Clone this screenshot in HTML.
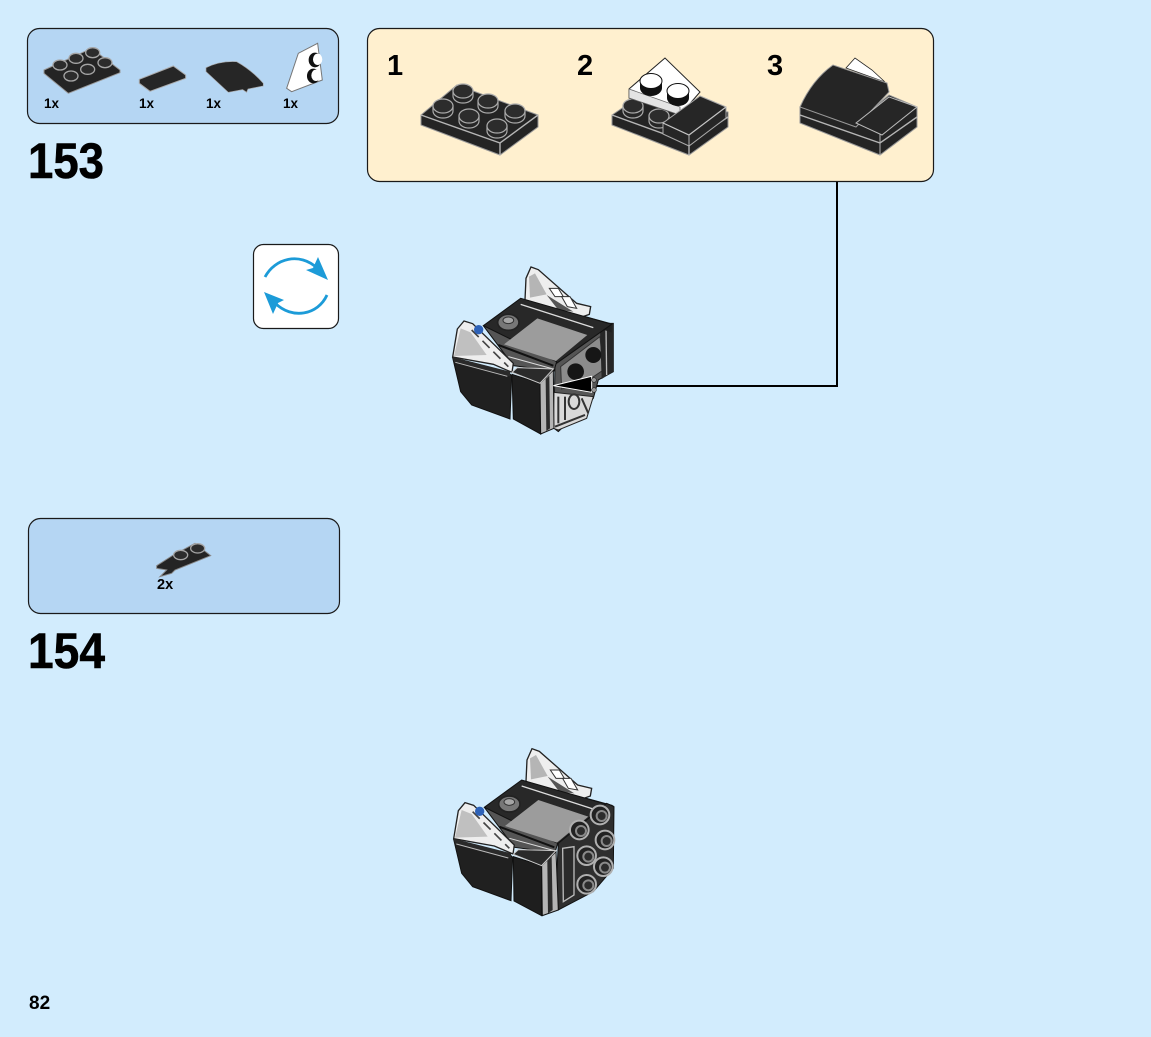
<!DOCTYPE html>
<html><head><meta charset="utf-8">
<style>
html,body{margin:0;padding:0;background:#d2ecfd;}
svg{display:block;}
text{font-family:"Liberation Sans",sans-serif;font-weight:bold;fill:#000;}
</style></head>
<body>
<svg width="1151" height="1037" viewBox="0 0 1151 1037" xmlns="http://www.w3.org/2000/svg">
<defs>
<g id="stud"><path d="M-10,0 V5 A10,7 0 0 0 10,5 V0 Z" fill="#262626" stroke="#aaa" stroke-width="1.2"/><ellipse rx="10" ry="7" fill="#2c2c2c" stroke="#aaa" stroke-width="1.2"/></g>
<g id="wstud"><path d="M-11,0 V7 A11,8 0 0 0 11,7 V0 Z" fill="#111"/><ellipse rx="11" ry="7.5" fill="#fff" stroke="#111" stroke-width="1"/></g>
<g id="ring"><circle r="28" fill="#222" stroke="#b0b0b0" stroke-width="6"/><circle cx="5" cy="3" r="15" fill="#2c2c2c" stroke="#8a8a8a" stroke-width="6"/></g>
<g id="common">
  <polygon points="272,130 545,205 545,232 280,150" fill="#1f1f1f"/>
  <line x1="282" y1="142" x2="520" y2="212" stroke="#ccc" stroke-width="3"/>
  <polygon points="288,70 303,36 325,44 440,145 482,155 478,178 450,188 385,165 285,135" fill="#eee" stroke="#222" stroke-width="4"/>
  <polygon points="297,65 315,55 350,118 300,128" fill="#b5b5b5"/>
  <g fill="#fff" stroke="#333" stroke-width="3"><polygon points="358,100 385,100 400,125 375,125"/><polygon points="395,125 420,125 440,160 412,155"/></g>
  <polygon points="350,120 430,170 385,165" fill="#555"/>
  <polygon points="160,212 272,130 545,208 380,325" fill="#282828" stroke="#111" stroke-width="3"/>
  <line x1="272" y1="148" x2="490" y2="218" stroke="#ddd" stroke-width="4"/>
  <polygon points="160,212 380,320 372,348 250,332" fill="#555" stroke="#111" stroke-width="3"/>
  <line x1="205" y1="270" x2="370" y2="332" stroke="#111" stroke-width="6"/>
  <line x1="235" y1="305" x2="370" y2="342" stroke="#ddd" stroke-width="3"/>
  <polygon points="222,268 322,190 472,240 378,318" fill="#9c9c9c"/>
  <ellipse cx="235" cy="202" rx="32" ry="24" fill="#777" stroke="#222" stroke-width="5"/>
  <ellipse cx="235" cy="196" rx="16" ry="10" fill="#a5a5a5" stroke="#333" stroke-width="3"/>
  <polygon points="82,222 102,198 128,206 250,325 246,352 190,328 68,306" fill="#eee" stroke="#222" stroke-width="4"/>
  <polygon points="92,220 122,232 170,300 72,303" fill="#c0c0c0"/>
  <line x1="125" y1="225" x2="235" y2="335" stroke="#444" stroke-width="5" stroke-dasharray="30 16"/>
  <circle cx="146" cy="224" r="14" fill="#2e62b8"/>
  <polygon points="68,308 235,352 245,362 240,492 125,450 92,410" fill="#202020" stroke="#111" stroke-width="3"/>
  <polygon points="68,306 240,350 240,364 72,322" fill="#2a2a2a"/>
  <line x1="76" y1="322" x2="232" y2="364" stroke="#bbb" stroke-width="3"/>
</g>
</defs>

<rect width="1151" height="1037" fill="#d2ecfd"/>

<!-- parts panel 153 -->
<rect x="27.5" y="28.5" width="311" height="95" rx="12" fill="#b5d6f3" stroke="#1a1a1a" stroke-width="1.2"/>
<g transform="translate(20,20) scale(.3333)">
  <polygon points="72,150 215,85 300,150 300,158 145,220 72,160" fill="#242424" stroke="#999" stroke-width="3"/>
  <g fill="#2c2c2c" stroke="#a5a5a5" stroke-width="4">
    <ellipse cx="120" cy="135" rx="21" ry="15"/><ellipse cx="168" cy="115" rx="21" ry="15"/><ellipse cx="218" cy="98" rx="21" ry="15"/>
    <ellipse cx="153" cy="168" rx="21" ry="15"/><ellipse cx="203" cy="148" rx="21" ry="15"/><ellipse cx="255" cy="128" rx="21" ry="15"/>
  </g>
  <polygon points="358,178 460,138 497,165 497,175 390,214 358,190" fill="#262626" stroke="#aaa" stroke-width="3"/>
  <path d="M558,143 Q600,122 650,125 Q695,150 730,190 L730,198 L684,207 L680,217 L668,209 L625,217 L558,155 Z" fill="#262626" stroke="#aaa" stroke-width="2"/>
  <polygon points="800,205 835,100 893,70 907,180 815,215" fill="#fff" stroke="#777" stroke-width="3"/>
  <ellipse cx="885" cy="120" rx="19" ry="22" fill="#111"/><ellipse cx="893" cy="118" rx="14" ry="17" fill="#fff"/>
  <ellipse cx="880" cy="168" rx="19" ry="22" fill="#111"/><ellipse cx="888" cy="166" rx="14" ry="17" fill="#fff"/>
</g>
<text x="44" y="108" font-size="13.5">1x</text>
<text x="139" y="108" font-size="13.5">1x</text>
<text x="206" y="108" font-size="13.5">1x</text>
<text x="283" y="108" font-size="13.5">1x</text>
<text x="28" y="178" font-size="50" textLength="76" lengthAdjust="spacingAndGlyphs" stroke="#000" stroke-width=".6">153</text>

<!-- sub-assembly panel -->
<rect x="367.5" y="28.5" width="566" height="153" rx="12" fill="#fff0cf" stroke="#1a1a1a" stroke-width="1.2"/>
<text x="387" y="75" font-size="29">1</text>
<text x="577" y="75" font-size="29">2</text>
<text x="767" y="75" font-size="29">3</text>

<!-- step 1 -->
<polygon points="421,115 457,85 538,115 538,127 500,155 421,125" fill="#242424" stroke="#999" stroke-width="1"/>
<polyline points="421,115 500,143 538,115" fill="none" stroke="#b5b5b5" stroke-width="1.4"/>
<line x1="500" y1="143" x2="500" y2="155" stroke="#b5b5b5" stroke-width="1.4"/>
<use href="#stud" x="463" y="91"/><use href="#stud" x="488" y="101"/><use href="#stud" x="515" y="111"/>
<use href="#stud" x="443" y="106"/><use href="#stud" x="469" y="116"/><use href="#stud" x="497" y="126"/>

<!-- step 2 -->
<polygon points="612,115 640,96 728,112 728,127 689,155 612,125" fill="#242424" stroke="#999"/>
<polyline points="612,115 689,143 728,117" fill="none" stroke="#b5b5b5" stroke-width="1.4"/>
<line x1="689" y1="143" x2="689" y2="155" stroke="#b5b5b5" stroke-width="1.4"/>
<use href="#stud" x="633" y="106"/><use href="#stud" x="659" y="116"/>
<polygon points="665,58 629,89 629,98 680,115 700,92" fill="#fff" stroke="#222"/>
<polygon points="629,89 680,107 680,115 629,98" fill="#e4e4e4" stroke="#666" stroke-width=".8"/>
<use href="#wstud" x="651" y="81"/><use href="#wstud" x="678" y="91"/>
<polygon points="663,123 700,96 726,107 726,118 689,146 663,134" fill="#262626" stroke="#aaa"/>
<polyline points="663,123 689,135 726,107" fill="none" stroke="#c5c5c5" stroke-width="1.2"/>
<line x1="689" y1="135" x2="689" y2="146" stroke="#b5b5b5"/>

<!-- step 3 -->
<polygon points="855,58 846,68 885,82 872,70" fill="#fff" stroke="#222" stroke-width=".8"/>
<polygon points="800,107 800,123 880,155 917,127 917,107 889,95 856,123" fill="#242424" stroke="#999"/>
<polyline points="800,115 880,143 917,117" fill="none" stroke="#b5b5b5" stroke-width="1.4"/>
<line x1="880" y1="132" x2="880" y2="155" stroke="#b5b5b5"/>
<path d="M800,107 Q812,80 833,65 L887,83 L889,92 L856,127 Z" fill="#252525" stroke="#999"/>
<polygon points="856,123 889,97 917,107 882,135" fill="#262626" stroke="#bbb"/>

<!-- connector -->
<path d="M837,182 V386 H590" fill="none" stroke="#000" stroke-width="2"/>

<!-- rotate icon -->
<rect x="253.5" y="244.5" width="85" height="84" rx="10" fill="#fff" stroke="#1a1a1a" stroke-width="1.2"/>
<g fill="none" stroke="#1c9bd8" stroke-width="2.8">
  <path d="M265,277 C275,258 300,252 317,268"/>
  <path d="M327,295 C318,315 292,320 275,303"/>
</g>
<polygon points="328,280 306,270 313,268 318,257" fill="#1c9bd8"/>
<polygon points="264,292 284,300 278,303 273,314" fill="#1c9bd8"/>

<!-- model step 153 -->
<g transform="translate(430,255) scale(.3333)">
  <polygon points="375,322 525,205 550,205 550,350 505,375 490,430 385,530 372,520" fill="#555" stroke="#111" stroke-width="3"/>
  <polygon points="392,335 510,245 520,345 480,372 395,402" fill="#8c8c8c" stroke="#333" stroke-width="3"/>
  <polygon points="510,222 550,205 550,350 515,372" fill="#262626"/>
  <line x1="528" y1="215" x2="530" y2="360" stroke="#bbb" stroke-width="4"/>
  <circle cx="437" cy="350" r="25" fill="#161616"/>
  <circle cx="490" cy="300" r="24" fill="#161616"/>
  <polygon points="372,412 490,425 470,490 385,525 370,520" fill="#d9d9d9" stroke="#222" stroke-width="3"/>
  <g fill="none" stroke="#333" stroke-width="6"><path d="M385,425 V505"/><path d="M405,425 V495"/><ellipse cx="432" cy="440" rx="16" ry="22"/><path d="M455,430 L475,475"/><path d="M375,515 L465,480"/></g>
  <use href="#common"/>
  <polygon points="246,358 330,385 332,537 250,492" fill="#1e1e1e" stroke="#111" stroke-width="3"/>
  <polygon points="330,385 370,345 372,520 332,537" fill="#b5b5b5" stroke="#111" stroke-width="3"/>
  <polygon points="347,372 358,362 360,520 349,528" fill="#2c2c2c"/>
  <polygon points="246,352 262,338 370,342 330,385" fill="#2a2a2a" stroke="#ccc" stroke-width="3"/>
  <polygon points="370,392 485,364 485,412" fill="#000" stroke="#fff" stroke-width="3"/>
  <circle cx="492" cy="375" r="7" fill="#999" stroke="#222" stroke-width="2"/>
  <circle cx="492" cy="405" r="7" fill="#999" stroke="#222" stroke-width="2"/>
</g>

<!-- parts panel 154 -->
<rect x="28.5" y="518.5" width="311" height="95" rx="12" fill="#b5d6f3" stroke="#1a1a1a" stroke-width="1.2"/>
<g transform="translate(140,535) scale(.3333)">
  <polygon points="50,92 100,60 165,25 212,62 105,105 95,115 60,125 80,105 50,100" fill="#242424" stroke="#888" stroke-width="3"/>
  <ellipse cx="122" cy="60" rx="21" ry="14" fill="#2c2c2c" stroke="#a5a5a5" stroke-width="4"/>
  <ellipse cx="173" cy="40" rx="21" ry="14" fill="#2c2c2c" stroke="#a5a5a5" stroke-width="4"/>
</g>
<text x="157" y="589" font-size="14.5">2x</text>
<text x="28" y="668" font-size="50" textLength="77" lengthAdjust="spacingAndGlyphs" stroke="#000" stroke-width=".6">154</text>

<!-- model step 154 -->
<g transform="translate(430,735) scale(.3333)">
  <g transform="translate(3,5)"><use href="#common"/></g>
  <polygon points="385,325 530,205 552,215 550,400 490,470 385,525 375,520" fill="#2e2e2e" stroke="#111" stroke-width="3"/>
  <use href="#ring" x="510" y="240"/>
  <use href="#ring" x="525" y="315"/>
  <use href="#ring" x="520" y="395"/>
  <use href="#ring" x="448" y="285"/>
  <use href="#ring" x="470" y="362"/>
  <use href="#ring" x="470" y="448"/>
  <polygon points="398,340 432,335 432,480 400,500" fill="#2a2a2a" stroke="#bbb" stroke-width="4"/>
  <polygon points="250,365 335,392 335,542 252,498" fill="#1e1e1e" stroke="#111" stroke-width="3"/>
  <polygon points="335,392 378,350 385,525 337,542" fill="#b5b5b5" stroke="#111" stroke-width="3"/>
  <polygon points="352,378 365,365 368,525 354,535" fill="#2c2c2c"/>
  <polygon points="250,358 265,344 378,347 335,392" fill="#2a2a2a" stroke="#ccc" stroke-width="3"/>
</g>

<text x="29" y="1009" font-size="19">82</text>
</svg>
</body></html>
